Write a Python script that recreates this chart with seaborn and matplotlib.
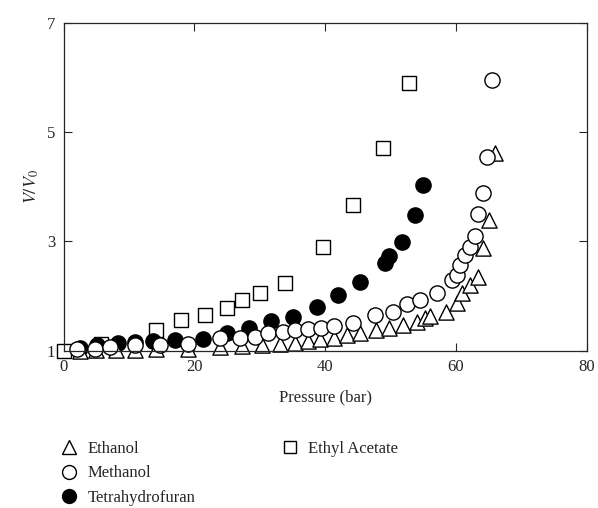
import numpy as np
import pandas as pd
import seaborn as sns
import matplotlib.pyplot as plt
from matplotlib.lines import Line2D

# date
etanol_x = [2.5, 5.0, 8.0, 11.0, 14.2, 19.1, 24.0, 27.3, 30.3, 33.1, 35.4, 37.4, 39.2, 41.3, 43.3,
            45.3, 47.8, 49.7, 51.9, 54.0, 55.3, 56.0, 58.5, 60.1, 60.9, 62.2, 63.4, 64.1, 65.1, 66.0]
etanol_y = [1.00, 1.01, 1.02, 1.02, 1.03, 1.04, 1.06, 1.08, 1.10, 1.12, 1.14, 1.18, 1.21, 1.23, 1.29,
            1.32, 1.37, 1.41, 1.47, 1.53, 1.59, 1.63, 1.71, 1.87, 2.05, 2.20, 2.35, 2.87, 3.39, 4.61]

metanol_x = [2.1, 4.8, 7.1, 10.9, 14.8, 19.1, 23.9, 27.0, 29.3, 31.3, 33.6, 35.4, 37.4, 39.3, 41.3,
             44.2, 47.6, 50.4, 52.5, 54.5, 57.1, 59.4, 60.1, 60.7, 61.4, 62.2, 62.9, 63.4, 64.2, 64.8, 65.5]
metanol_y = [1.03, 1.04, 1.07, 1.10, 1.10, 1.13, 1.23, 1.24, 1.26, 1.32, 1.35, 1.37, 1.39, 1.41, 1.45,
             1.51, 1.65, 1.71, 1.85, 1.93, 2.06, 2.29, 2.38, 2.57, 2.75, 2.90, 3.09, 3.51, 3.88, 4.55, 5.96]

thf_x = [2.5, 5.1, 8.3, 10.9, 13.7, 17.0, 21.4, 25.0, 28.3, 31.8, 35.1, 38.7, 42.0, 45.3, 49.1,
         49.8, 51.7, 53.8, 55.0]
thf_y = [1.05, 1.10, 1.14, 1.16, 1.18, 1.20, 1.21, 1.32, 1.41, 1.55, 1.62, 1.80, 2.02, 2.26, 2.60,
         2.73, 2.99, 3.48, 4.03]

acetat_x = [0.0, 5.7, 14.1, 17.9, 21.6, 25.0, 27.3, 30.1, 33.8, 39.7, 44.3, 48.9, 52.9]
acetat_y = [0.99, 1.13, 1.38, 1.57, 1.65, 1.79, 1.93, 2.06, 2.24, 2.90, 3.67, 4.71, 5.89]

sns.set_style("ticks")
plt.rcParams["font.family"] = ["Liberation Serif", "DejaVu Serif"]
plt.rcParams["mathtext.fontset"] = "stix"

fig = plt.figure(figsize=(5.98, 5.08), dpi=100)
ax = fig.add_axes([0.1062, 0.3096, 0.8749, 0.6457])

# Ethanol - triunghiuri goale
sns.scatterplot(x=etanol_x, y=etanol_y, ax=ax, marker="^", s=120, color="white",
                edgecolor="black", linewidth=1.0, zorder=3, clip_on=False)
# Methanol - cercuri goale
sns.scatterplot(x=metanol_x, y=metanol_y, ax=ax, marker="o", s=120, color="white",
                edgecolor="black", linewidth=1.0, zorder=4, clip_on=False)
# THF - cercuri pline
sns.scatterplot(x=thf_x, y=thf_y, ax=ax, marker="o", s=120, color="black",
                edgecolor="black", linewidth=1.0, zorder=2, clip_on=False)
# Ethyl acetate - patrate goale
sns.scatterplot(x=acetat_x, y=acetat_y, ax=ax, marker="s", s=95, color="white",
                edgecolor="black", linewidth=1.0, zorder=1, clip_on=False)

ax.set_xlim(0, 80)
ax.set_ylim(1, 7)
ax.set_xticks([0, 20, 40, 60, 80])
ax.set_yticks([1, 3, 5, 7])
ax.tick_params(direction="in", length=6, width=0.8, top=True, right=True,
               labelsize=12, pad=6)
for sp in ax.spines.values():
    sp.set_linewidth(0.9)
    sp.set_visible(True)
    sp.set_zorder(5)
ax.set_xlabel("Pressure (bar)", fontsize=12, labelpad=10)
ax.set_ylabel(r"$V/V_0$", fontsize=13, labelpad=4)

# legenda sub grafic
h = [Line2D([], [], ls="none", marker="^", ms=10, mfc="white", mec="black", mew=1.0),
     Line2D([], [], ls="none", marker="o", ms=10, mfc="white", mec="black", mew=1.0),
     Line2D([], [], ls="none", marker="o", ms=10, mfc="black", mec="black", mew=1.0),
     Line2D([], [], ls="none", marker="s", ms=9, mfc="white", mec="black", mew=1.0),
     Line2D([], [], ls="none"),
     Line2D([], [], ls="none")]
labels = ["Ethanol", "Methanol", "Tetrahydrofuran", "Ethyl Acetate", "", ""]
fig.legend(h, labels, ncol=2, loc="upper left", bbox_to_anchor=(0.085, 0.1488),
           frameon=False, fontsize=12, handlelength=1.2, handletextpad=0.5,
           labelspacing=0.52, columnspacing=5.05, borderpad=0)

plt.savefig("out.png", dpi=100)
